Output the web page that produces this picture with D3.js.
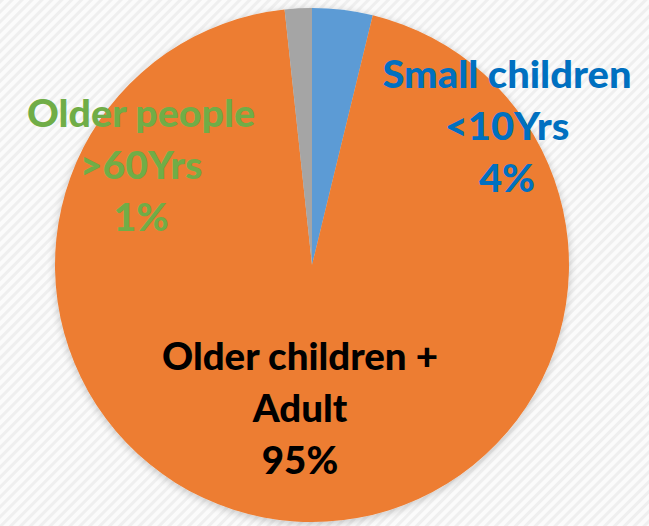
<!DOCTYPE html>
<html>
<head>
<meta charset="utf-8">
<script src="https://cdn.jsdelivr.net/npm/d3@7"></script>
<style>
  html, body { margin: 0; padding: 0; background: #fff; }
  svg { display: block; }
</style>
</head>
<body>
<script>
// ---- data ----
const categories = ["Small children", "Older children + Adult", "Older people"];
const values = [3.8, 94.5, 1.7];
const labelLines = [
  ["Small children", "<10Yrs", "4%"],
  ["Older children +", "Adult", "95%"],
  ["Older people", ">60Yrs", "1%"]
];
const sliceColors = ["#5B9BD5", "#ED7D31", "#A5A5A5"];
const labelColors = ["#0070C0", "#000000", "#70AD47"];

// ---- layout ----
const W = 649, H = 526;
const cx = 312, cy = 265, R = 257;
// label anchor positions (center x, first baseline y) and target widths of first line
const labelPos = [
  { x: 507, y: 88, w: 249 },
  { x: 300, y: 370, w: 276 },
  { x: 141, y: 127, w: 228 }
];
const lineGap = 52;
const fontSize = 38;

const svg = d3.select("body").append("svg")
  .attr("width", W).attr("height", H);

const defs = svg.append("defs");
const pat = defs.append("pattern")
  .attr("id", "bg").attr("patternUnits", "userSpaceOnUse")
  .attr("width", 7).attr("height", 7)
  .attr("patternTransform", "rotate(45)");
pat.append("rect").attr("width", 7).attr("height", 7).attr("fill", "#fbfbfb");
pat.append("rect").attr("width", 3).attr("height", 7).attr("fill", "#efefef");

const shadow = defs.append("filter").attr("id", "sh")
  .attr("x", "-10%").attr("y", "-10%").attr("width", "120%").attr("height", "120%");
shadow.append("feGaussianBlur").attr("in", "SourceAlpha").attr("stdDeviation", 4);
shadow.append("feOffset").attr("dx", 0).attr("dy", 2).attr("result", "b");
shadow.append("feComponentTransfer").append("feFuncA").attr("type", "linear").attr("slope", 0.22);
const merge = shadow.append("feMerge");
merge.append("feMergeNode");
merge.append("feMergeNode").attr("in", "SourceGraphic");

svg.append("rect").attr("width", W).attr("height", H).attr("fill", "url(#bg)");

const pie = d3.pie().sort(null).value(d => d)(values);
const arc = d3.arc().innerRadius(0).outerRadius(R);
const color = d3.scaleOrdinal().domain(categories).range(sliceColors);

const g = svg.append("g").attr("transform", `translate(${cx},${cy})`).attr("filter", "url(#sh)");
g.selectAll("path").data(pie).join("path")
  .attr("d", arc)
  .attr("fill", (d, i) => color(categories[i]));

const labels = svg.append("g");
labelLines.forEach((lines, i) => {
  const p = labelPos[i];
  const outer = labels.append("g").attr("transform", `translate(${p.x},${p.y})`);
  const t = outer.append("text")
    .attr("text-anchor", "middle")
    .attr("font-family", "Lato, 'Open Sans', sans-serif")
    .attr("font-weight", "900")
    .attr("font-size", fontSize)
    .attr("fill", labelColors[i]);
  lines.forEach((ln, j) => {
    t.append("tspan").attr("x", 0).attr("y", j * lineGap).text(ln);
  });
  const len = t.select("tspan").node().getComputedTextLength();
  t.attr("transform", `scale(${p.w / len},1)`);
});
</script>
</body>
</html>
